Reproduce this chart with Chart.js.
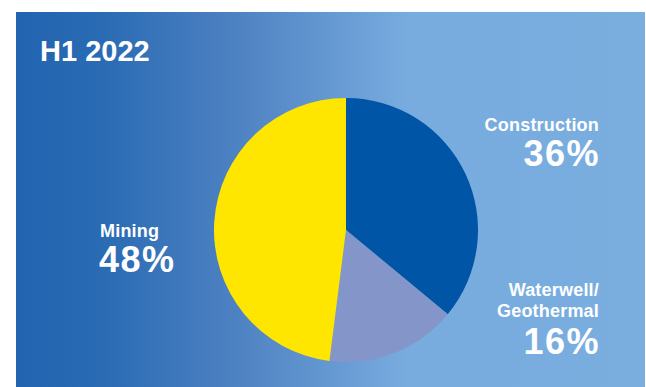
<!DOCTYPE html>
<html>
<head>
<meta charset="utf-8">
<script src="https://cdn.jsdelivr.net/npm/chart.js"></script>
<style>
  html, body { margin: 0; padding: 0; background: #fff; }
  #wrap { position: relative; width: 646px; height: 387px; overflow: hidden; font-family: "Liberation Sans", Arial, sans-serif; color: #fff; }
  #panel {
    position: absolute; left: 16px; top: 12px; width: 629px; height: 375px;
    background: linear-gradient(to right, #2264b0 0%, #2a6bb4 14%, #4f83c3 36%, #78abde 62%, #7aaedf 100%);
  }
  #pie { position: absolute; left: 214px; top: 98px; width: 264px; height: 264px; }
  .lbl { position: absolute; font-weight: bold; white-space: nowrap; }
  .name { font-size: 18px; line-height: 18px; letter-spacing: 0.2px; }
  .pct { font-size: 36px; line-height: 36px; letter-spacing: 1.5px; }
  .r { text-align: right; }
</style>
</head>
<body>
<div id="wrap">
  <div id="panel"></div>
  <div class="lbl" id="title" style="left:40px; top:37px; font-size:29px; line-height:29px;"></div>
  <div id="pie"><canvas id="c"></canvas></div>
  <div class="lbl name r" id="n0" style="right:47px; top:116px;"></div>
  <div class="lbl pct r" id="p0" style="right:46px; top:136px;"></div>
  <div class="lbl name r" id="n1" style="right:47px; top:280px; line-height:21px;"></div>
  <div class="lbl pct r" id="p1" style="right:46px; top:324px;"></div>
  <div class="lbl name" id="n2" style="left:100px; top:222px;"></div>
  <div class="lbl pct" id="p2" style="left:99px; top:242px;"></div>
</div>
<script>
"use strict";

const $ = (id) => document.getElementById(id);

// ---- data ----
const TITLE = "H1 2022";
const segments = ["Construction", "Waterwell/\nGeothermal", "Mining"];
const shares = [36, 16, 48];
const colors = ["#0055a6", "#8495c9", "#ffe600"];

// ---- labels ----
$("title").textContent = TITLE;
segments.forEach((name, i) => {
  $("n" + i).innerHTML = name.split("\n").join("<br>");
  $("p" + i).textContent = shares[i] + "%";
});

// ---- pie ----
new Chart($("c"), {
  type: "pie",
  data: {
    labels: segments.map((s) => s.replace("\n", " ")),
    datasets: [{
      data: shares,
      backgroundColor: colors,
      borderWidth: 0,
    }],
  },
  options: {
    animation: false, responsive: true, maintainAspectRatio: false,
    layout: { padding: 0 },
    plugins: { legend: { display: false }, tooltip: { enabled: false } },
  },
});
</script>
</body>
</html>
